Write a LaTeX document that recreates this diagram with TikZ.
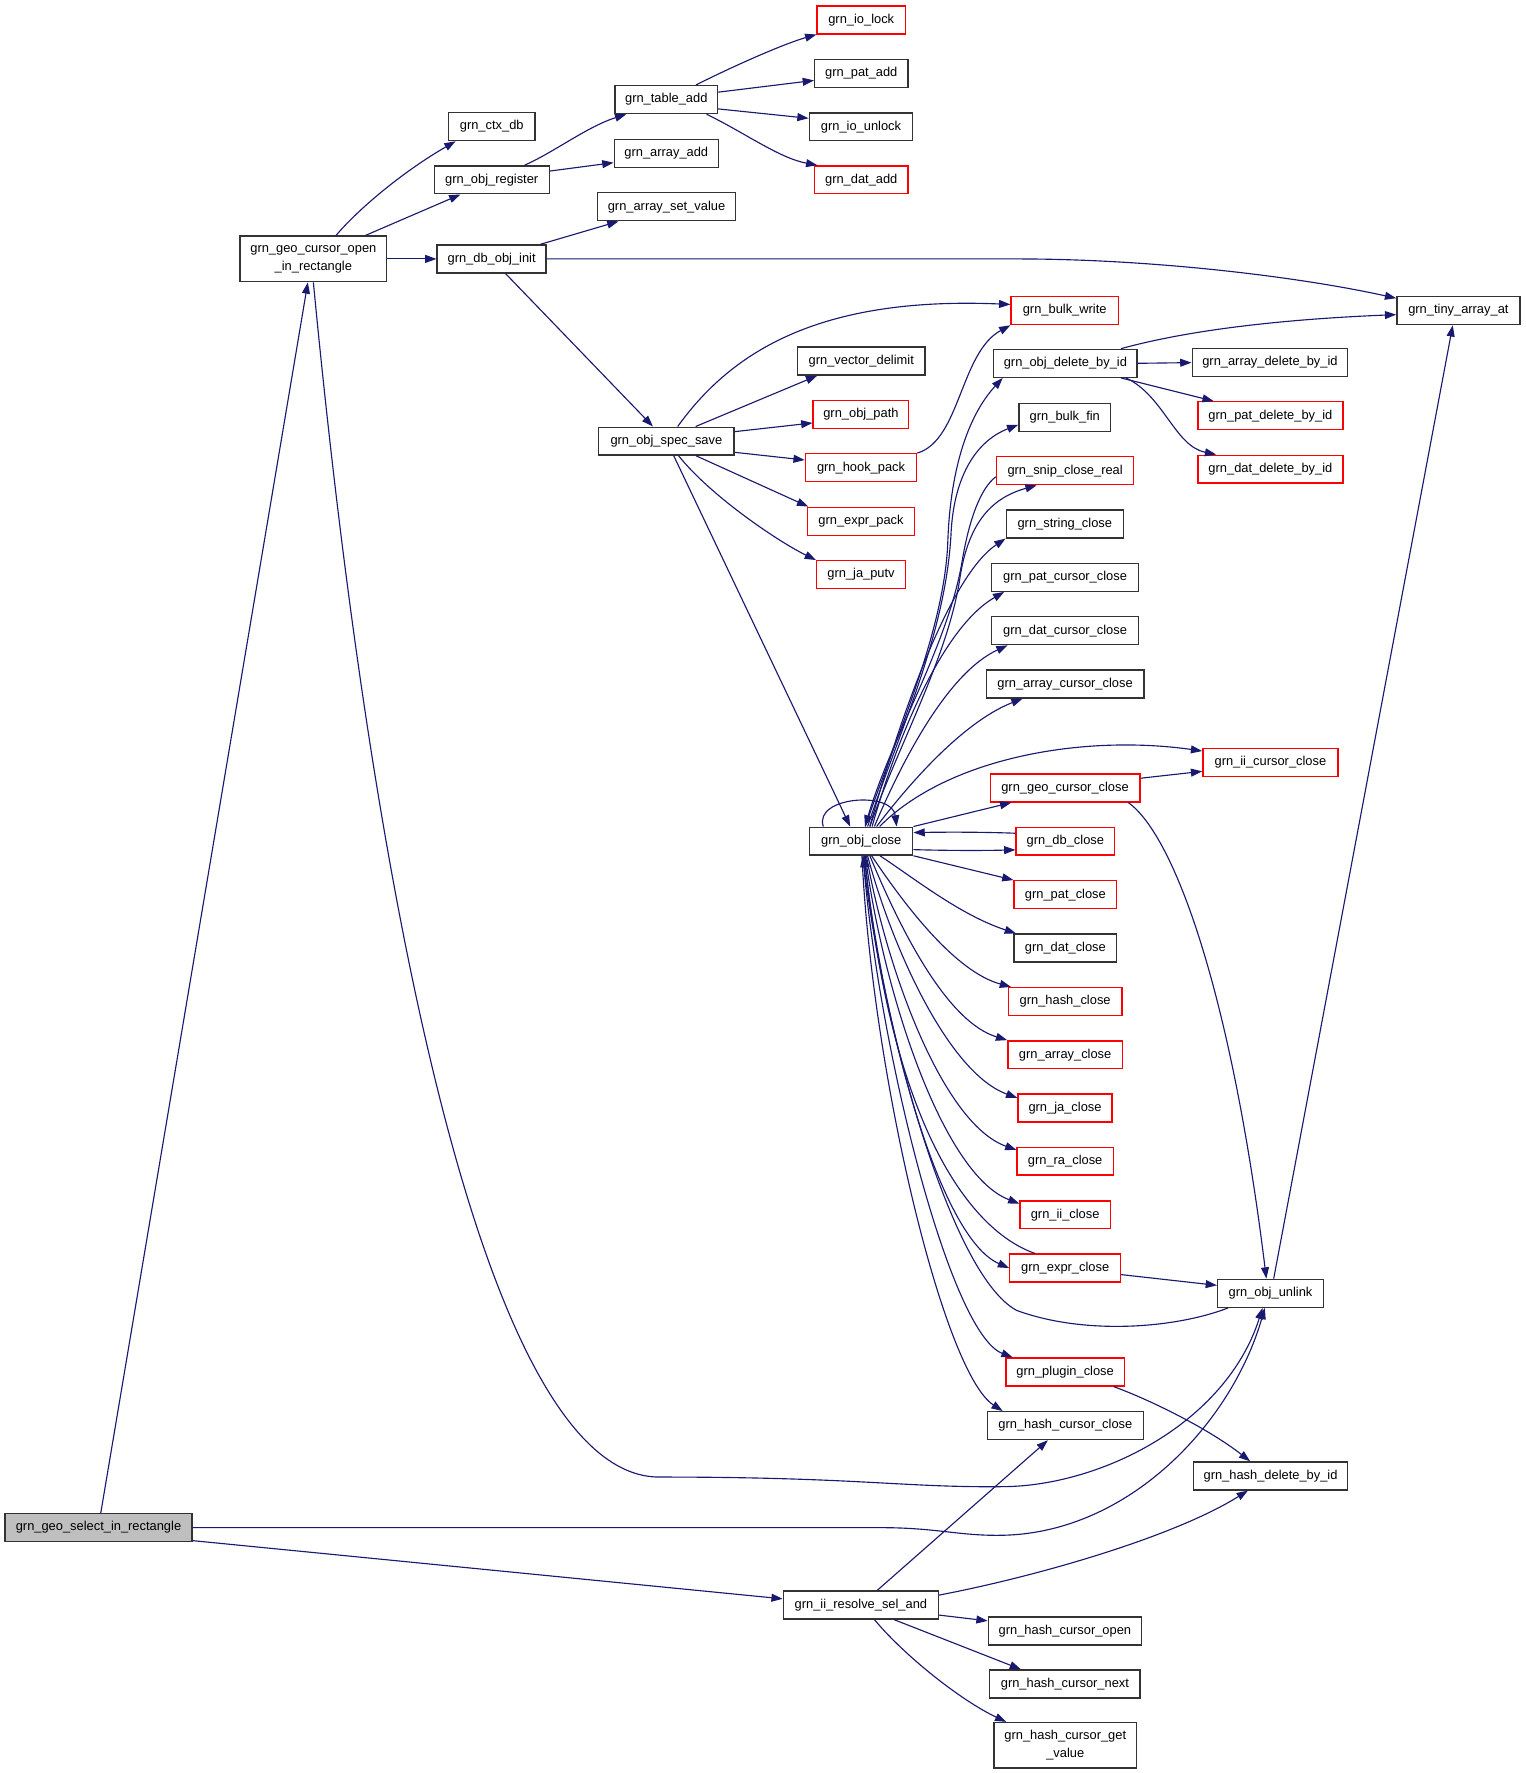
\documentclass[tikz,border=0pt]{standalone}
\usepackage{fontspec}
\setmainfont{Liberation Sans}
\usetikzlibrary{arrows.meta}
\definecolor{edgecol}{HTML}{191970}
\definecolor{boxgray}{HTML}{BFBFBF}
\newcommand\fnt{\fontsize{11.4}{16}\selectfont}
\begin{document}
\begin{tikzpicture}[x=1pt,y=-1pt,
 fn/.style={draw=black!80, line width=1.2pt, inner sep=0pt, minimum height=24.7pt, font=\fnt, fill=white, align=center},
 fnr/.style={fn, draw=red},
 fng/.style={fn, fill=boxgray},
 conn/.style={draw=edgecol, line width=1pt, -{Triangle[length=10pt,width=7pt]}}]
\useasboundingbox[fill=white] (0,0) rectangle (1350,1569.5);
% nodes
\node[fng, minimum width=165.7pt] (sel) at (87.2,1352.3) {grn\_geo\_select\_in\_rectangle};
\node[fn, minimum width=130pt, minimum height=40.3pt] (gco) at (277.4,229.2) {grn\_geo\_cursor\_open\\\_in\_rectangle};
\node[fn, minimum width=76.8pt] (ctx) at (435.3,112.1) {grn\_ctx\_db};
\node[fn, minimum width=101.8pt] (reg) at (435.3,159.2) {grn\_obj\_register};
\node[fn, minimum width=96.5pt] (dbi) at (435.2,229.2) {grn\_db\_obj\_init};
\node[fn, minimum width=90.5pt] (tadd) at (589.8,88.2) {grn\_table\_add};
\node[fn, minimum width=92.2pt] (aadd) at (589.8,135.7) {grn\_array\_add};
\node[fn, minimum width=122.7pt] (asv) at (590,183) {grn\_array\_set\_value};
\node[fnr, minimum width=78.2pt] (iolock) at (762.4,17.6) {grn\_io\_lock};
\node[fn, minimum width=82.5pt] (patadd) at (762.4,64.9) {grn\_pat\_add};
\node[fn, minimum width=91.6pt] (iounlock) at (762.2,112.3) {grn\_io\_unlock};
\node[fnr, minimum width=82.5pt] (datadd) at (762.4,159.2) {grn\_dat\_add};
\node[fn, minimum width=119.7pt] (spec) at (589.9,390.5) {grn\_obj\_spec\_save};
\node[fn, minimum width=112.7pt] (vdel) at (762.4,319.6) {grn\_vector\_delimit};
\node[fnr, minimum width=84.6pt] (opath) at (762.1,367) {grn\_obj\_path};
\node[fnr, minimum width=98.4pt] (hook) at (762.2,414) {grn\_hook\_pack};
\node[fnr, minimum width=94.9pt] (epack) at (762.2,461.4) {grn\_expr\_pack};
\node[fnr, minimum width=78.6pt] (jav) at (762.2,508.7) {grn\_ja\_putv};
\node[fn, minimum width=91.2pt] (oc) at (762.4,744.6) {grn\_obj\_close};
\node[fnr, minimum width=95pt] (bw) at (942.5,275) {grn\_bulk\_write};
\node[fn, minimum width=126.8pt] (odel) at (943.1,321.6) {grn\_obj\_delete\_by\_id};
\node[fn, minimum width=81.2pt] (bfin) at (942.6,369.4) {grn\_bulk\_fin};
\node[fnr, minimum width=121.4pt] (snip) at (942.9,416.7) {grn\_snip\_close\_real};
\node[fn, minimum width=103.7pt] (strc) at (942.6,463.8) {grn\_string\_close};
\node[fn, minimum width=129.9pt] (pcc) at (942.8,511) {grn\_pat\_cursor\_close};
\node[fn, minimum width=129.9pt] (dcc) at (942.8,558.3) {grn\_dat\_cursor\_close};
\node[fn, minimum width=139.5pt] (acc) at (942.8,605.4) {grn\_array\_cursor\_close};
\node[fnr, minimum width=132.5pt] (gcc) at (942.8,697.5) {grn\_geo\_cursor\_close};
\node[fnr, minimum width=87.2pt] (dbc) at (943.1,744.6) {grn\_db\_close};
\node[fnr, minimum width=90.7pt] (patc) at (943.1,792) {grn\_pat\_close};
\node[fn, minimum width=90.7pt] (datc) at (943.1,839.2) {grn\_dat\_close};
\node[fnr, minimum width=100.6pt] (hashc) at (942.9,886.6) {grn\_hash\_close};
\node[fnr, minimum width=101.4pt] (arrc) at (942.9,933.7) {grn\_array\_close};
\node[fnr, minimum width=83.3pt] (jac) at (942.8,980.8) {grn\_ja\_close};
\node[fnr, minimum width=85pt] (rac) at (942.9,1027.9) {grn\_ra\_close};
\node[fnr, minimum width=79.8pt] (iic) at (942.9,1075.4) {grn\_ii\_close};
\node[fnr, minimum width=98pt] (exprc) at (942.9,1122.5) {grn\_expr\_close};
\node[fnr, minimum width=105pt] (plug) at (942.9,1214.5) {grn\_plugin\_close};
\node[fn, minimum width=138.2pt] (hcc) at (943.1,1262) {grn\_hash\_cursor\_close};
\node[fn, minimum width=137.3pt] (res) at (762.1,1420.8) {grn\_ii\_resolve\_sel\_and};
\node[fn, minimum width=135.6pt] (hco) at (942.7,1443.8) {grn\_hash\_cursor\_open};
\node[fn, minimum width=133pt] (hcn) at (942.7,1490.7) {grn\_hash\_cursor\_next};
\node[fn, minimum width=126pt, minimum height=40.3pt] (hcg) at (943,1545) {grn\_hash\_cursor\_get\\\_value};
\node[fn, minimum width=108.9pt] (tiny) at (1291,275) {grn\_tiny\_array\_at};
\node[fn, minimum width=137.7pt] (adel) at (1124.2,321) {grn\_array\_delete\_by\_id};
\node[fnr, minimum width=128.3pt] (pdel) at (1124.6,368) {grn\_pat\_delete\_by\_id};
\node[fnr, minimum width=128.3pt] (ddel) at (1124.6,415.3) {grn\_dat\_delete\_by\_id};
\node[fnr, minimum width=119.6pt] (iicc) at (1124.6,675) {grn\_ii\_cursor\_close};
\node[fn, minimum width=93.6pt] (unl) at (1124.7,1144.8) {grn\_obj\_unlink};
\node[fn, minimum width=136.8pt] (hdel) at (1124.7,1306.5) {grn\_hash\_delete\_by\_id};
% edges
\draw[conn] ([xshift=2pt]sel.north) -- ([xshift=-4.9pt]gco.south);
\draw[conn] (gco.south) .. controls (330,800) and (430,1307.5) .. (583.5,1307.5) .. controls (760,1307.5) and (800,1317) .. (889,1316) .. controls (975,1315) and (1085,1260) .. ([xshift=-7pt]unl.south);
\draw[conn] (sel.east) -- (780,1352.3) .. controls (830,1352.3) and (850,1360) .. (889,1359) .. controls (1000,1356) and (1090,1260) .. ([xshift=-5pt]unl.south);
\draw[conn] ([yshift=-11.5pt]sel.east) -- ([yshift=5.5pt]res.west);
\draw[conn] ([xshift=20pt]gco.north) .. controls (320,182) and (360,150) .. ([xshift=-32pt]ctx.south);
\draw[conn] ([xshift=46pt]gco.north) -- ([xshift=-27.7pt]reg.south);
\draw[conn] (gco.east) -- (dbi.west);
\draw[conn] ([xshift=29pt]reg.north) .. controls (490,135) and (520,112) .. ([xshift=-35.4pt]tadd.south);
\draw[conn] ([yshift=7.8pt]reg.east) -- ([yshift=-8.3pt]aadd.west);
\draw[conn] ([xshift=26.3pt]tadd.north) .. controls (640,63) and (690,40) .. (iolock.south west);
\draw[conn] ([yshift=6.6pt]tadd.east) -- ([yshift=-6.3pt]patadd.west);
\draw[conn] ([yshift=-8.2pt]tadd.east) -- ([yshift=7.6pt]iounlock.west);
\draw[conn] ([xshift=35.8pt]tadd.south) .. controls (660,118) and (690,140) .. ([xshift=3pt]datadd.north west);
\draw[conn] ([xshift=43.2pt]dbi.north) -- ([xshift=-42.5pt]asv.south);
\draw[conn] (dbi.east) -- (900,229.2) .. controls (1020,229.2) and (1150,245) .. ([yshift=11pt]tiny.west);
\draw[conn] ([xshift=12.3pt]dbi.south) -- ([xshift=-11.9pt]spec.north);
\draw[conn] ([xshift=10pt]spec.north) .. controls (645,315) and (720,262) .. ([yshift=5.5pt]bw.west);
\draw[conn] ([xshift=25.9pt]spec.north) -- ([xshift=-39pt]vdel.south);
\draw[conn] ([yshift=8.4pt]spec.east) -- ([yshift=-7.4pt]opath.west);
\draw[conn] ([yshift=-9.9pt]spec.east) -- ([yshift=6.8pt]hook.west);
\draw[conn] ([xshift=26.2pt]spec.south) -- ([xshift=1.3pt]epack.north west);
\draw[conn] ([xshift=10.8pt]spec.south) .. controls (630,440) and (690,480) .. (jav.north west);
\draw[conn] ([xshift=6.5pt]spec.south) -- ([xshift=-9.8pt]oc.north);
\draw[conn] (hook.north east) .. controls (850,390) and (850,312) .. (bw.south west);
% obj_close fan up
\draw[conn] ([xshift=3.6pt]oc.north) .. controls (790,660) and (836,560) .. (839,480) .. controls (841,420) and (855,370) .. ([xshift=8.5pt]odel.south west);
\draw[conn] ([xshift=5.6pt]oc.north) .. controls (795,650) and (838,560) .. (842,470) .. controls (845,420) and (865,390) .. ([yshift=-6.6pt]bfin.west);
\draw[conn] ([xshift=7.6pt]oc.north) .. controls (795,660) and (840,580) .. (850,510) .. controls (858,460) and (880,440) .. ([xshift=-25.2pt]snip.south);
\draw[conn] ([yshift=-5.3pt]snip.west) .. controls (868,432) and (858,460) .. (852,495) .. controls (840,570) and (790,650) .. ([xshift=3.3pt]oc.north);
\draw[conn] ([xshift=7.6pt]oc.north) .. controls (795,640) and (840,510) .. (strc.south west);
\draw[conn] ([xshift=9.6pt]oc.north) .. controls (795,650) and (835,555) .. ([xshift=11.7pt]pcc.south west);
\draw[conn] ([xshift=11.6pt]oc.north) .. controls (800,670) and (840,595) .. ([xshift=14.7pt]dcc.south west);
\draw[conn] ([xshift=13.6pt]oc.north) .. controls (800,700) and (850,640) .. ([xshift=32.8pt]acc.south west);
\draw[conn] ([xshift=16.2pt]oc.north) .. controls (840,670) and (960,650) .. ([yshift=10.2pt]iicc.west);
\draw[conn] (oc.north east) -- ([xshift=-47.6pt]gcc.south);
\draw[conn] ([yshift=-7.5pt]oc.east) .. controls (840,753) and (870,753) .. ([yshift=-7.7pt]dbc.west);
\draw[conn] ([yshift=7pt]dbc.west) .. controls (870,736.5) and (840,736.5) .. ([yshift=7.6pt]oc.east);
\draw[conn] ([xshift=-33.6pt]oc.north) .. controls (720,705) and (790,700) .. ([xshift=31.3pt]oc.north);
% obj_close fan down
\draw[conn] (oc.south east) -- (patc.north west);
\draw[conn] ([xshift=16.6pt]oc.south) .. controls (810,778) and (850,810) .. ([xshift=2.2pt]datc.north west);
\draw[conn] ([xshift=9.2pt]oc.south) .. controls (800,800) and (845,860) .. ([xshift=3pt]hashc.north west);
\draw[conn] ([xshift=7.6pt]oc.south) .. controls (800,830) and (840,905) .. (arrc.north west);
\draw[conn] ([xshift=5.6pt]oc.south) .. controls (790,840) and (840,950) .. ([yshift=-4pt]jac.north west);
\draw[conn] ([xshift=4.6pt]oc.south) .. controls (785,860) and (835,995) .. ([yshift=-3pt]rac.north west);
\draw[conn] ([xshift=3.6pt]oc.south) .. controls (782,880) and (835,1040) .. ([yshift=-3pt]iic.north west);
\draw[conn] ([xshift=2.6pt]oc.south) .. controls (780,900) and (830,1095) .. (exprc.west);
\draw[conn] ([xshift=-26.7pt]exprc.north) .. controls (860,1090) and (790,1000) .. ([xshift=3pt]oc.south);
\draw[conn] ([xshift=-37.4pt]unl.south) .. controls (1040,1176) and (960,1182) .. (900,1160) .. controls (840,1128) and (780,900) .. ([xshift=1.5pt]oc.south);
\draw[conn] ([xshift=1.6pt]oc.south) .. controls (776,920) and (840,1180) .. ([xshift=6.6pt]plug.north west);
\draw[conn] ([xshift=0.6pt]oc.south) .. controls (772,950) and (835,1215) .. ([xshift=14.2pt]hcc.north west);
% right side
\draw[conn] ([yshift=8.6pt]gcc.east) -- ([yshift=-7.8pt]iicc.west);
\draw[conn] ([xshift=56pt]gcc.south) .. controls (1040,740) and (1090,880) .. ([xshift=-3.7pt]unl.north);
\draw[conn] ([yshift=-5.8pt]exprc.east) -- ([yshift=7pt]unl.west);
\draw[conn] ([xshift=2.8pt]unl.north) -- ([xshift=-5pt]tiny.south);
\draw[conn] ([xshift=49.2pt]odel.north) .. controls (1060,290) and (1150,282) .. ([yshift=-3.5pt]tiny.west);
\draw[conn] (odel.east) -- (adel.west);
\draw[conn] ([xshift=49.2pt]odel.south) -- ([xshift=-50.2pt]pdel.north);
\draw[conn] ([xshift=53.6pt]odel.south) .. controls (1030,350) and (1040,395) .. ([xshift=-48pt]ddel.north);
\draw[conn] ([xshift=43pt]plug.south) .. controls (1020,1240) and (1070,1265) .. ([xshift=-18pt]hdel.north);
\draw[conn] ([xshift=14.4pt]res.north) -- ([xshift=-15.5pt]hcc.south);
\draw[conn] ([yshift=8.8pt]res.east) .. controls (920,1395) and (1040,1360) .. ([xshift=-20pt]hdel.south);
\draw[conn] ([yshift=-8.9pt]res.east) -- ([yshift=9pt]hco.west);
\draw[conn] ([xshift=29.4pt]res.south) -- ([xshift=-38.9pt]hcn.north);
\draw[conn] ([xshift=12pt]res.south) .. controls (800,1465) and (850,1505) .. ([xshift=-52.2pt]hcg.north);
\end{tikzpicture}
\end{document}
